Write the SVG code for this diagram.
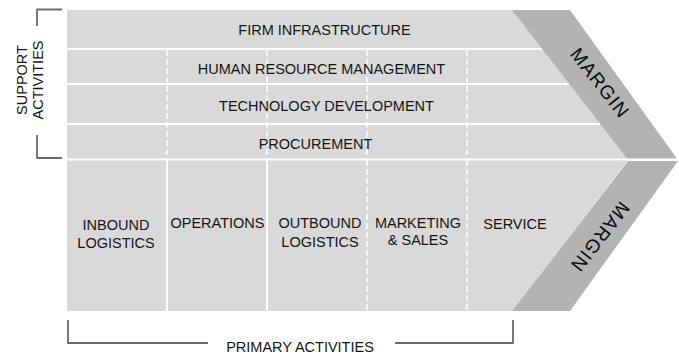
<svg xmlns="http://www.w3.org/2000/svg" width="679" height="354" viewBox="0 0 679 354">
<style>
.body{fill:#d9d9d9}
.margin{fill:#b3b3b3}
.sep{stroke:#ffffff;stroke-width:2;fill:none}
.dash{stroke:#ffffff;stroke-width:1.5;stroke-dasharray:6 3;fill:none}
.br{stroke:#6b6b6b;stroke-width:1.8;fill:none;stroke-linejoin:round}
text{font-family:"Liberation Sans",Arial,sans-serif;font-size:14.5px;fill:#151515;text-anchor:middle}
.mg{font-size:19px;letter-spacing:1.2px;dominant-baseline:central;fill:#0a0a0a}
</style>
<rect width="679" height="354" fill="#ffffff"/>
<g id="chain-body">
<polygon class="body" points="67,10 512,10 628,160 512,311 67,311"/>
</g>
<g id="margin-upper">
<polygon class="margin" points="512,10 570,10 678,160 628,160"/>
<text class="mg" transform="translate(600,83) rotate(52)">MARGIN</text>
</g>
<g id="margin-lower">
<polygon class="margin" points="628,161 678,161 570,311 512,311"/>
<text class="mg" transform="translate(600,237) rotate(128)">MARGIN</text>
</g>
<g id="connectors">
<line class="sep" x1="67" y1="49" x2="542" y2="49"/>
<line class="sep" x1="67" y1="84" x2="569" y2="84"/>
<line class="sep" x1="67" y1="124" x2="600" y2="124"/>
<line class="sep" x1="67" y1="159.5" x2="679" y2="159.5"/>
<line class="dash" x1="167" y1="50" x2="167" y2="158"/>
<line class="dash" x1="267" y1="50" x2="267" y2="158"/>
<line class="dash" x1="367" y1="50" x2="367" y2="158"/>
<line class="dash" x1="467" y1="50" x2="467" y2="158"/>
<line class="sep" x1="167" y1="160" x2="167" y2="311"/>
<line class="sep" x1="267" y1="160" x2="267" y2="311"/>
<line class="dash" x1="367" y1="160" x2="367" y2="311"/>
<line class="dash" x1="467" y1="160" x2="467" y2="311"/>
<path class="br" d="M62,9.5 H37 V26"/>
<path class="br" d="M37,135 V158 H62"/>
<path class="br" d="M68,320 V343 H208"/>
<path class="br" d="M395,343 H513 V320"/>
</g>
<g id="firm-infrastructure"><text x="324.5" y="35">FIRM INFRASTRUCTURE</text></g>
<g id="human-resource-management"><text x="321.5" y="74">HUMAN RESOURCE MANAGEMENT</text></g>
<g id="technology-development"><text x="326.5" y="111">TECHNOLOGY DEVELOPMENT</text></g>
<g id="procurement"><text x="315.5" y="149">PROCUREMENT</text></g>
<g id="inbound-logistics"><text x="116" y="230">INBOUND</text><text x="116" y="248">LOGISTICS</text></g>
<g id="operations"><text x="217.5" y="228">OPERATIONS</text></g>
<g id="outbound-logistics"><text x="320" y="228">OUTBOUND</text><text x="320" y="247">LOGISTICS</text></g>
<g id="marketing-sales"><text x="418" y="228">MARKETING</text><text x="418" y="245">&amp; SALES</text></g>
<g id="service"><text x="515" y="229">SERVICE</text></g>
<g id="support-activities">
<text transform="translate(27,80) rotate(-90)">SUPPORT</text>
<text transform="translate(43,80) rotate(-90)">ACTIVITIES</text>
</g>
<g id="primary-activities"><text x="300" y="352">PRIMARY ACTIVITIES</text></g>
</svg>
